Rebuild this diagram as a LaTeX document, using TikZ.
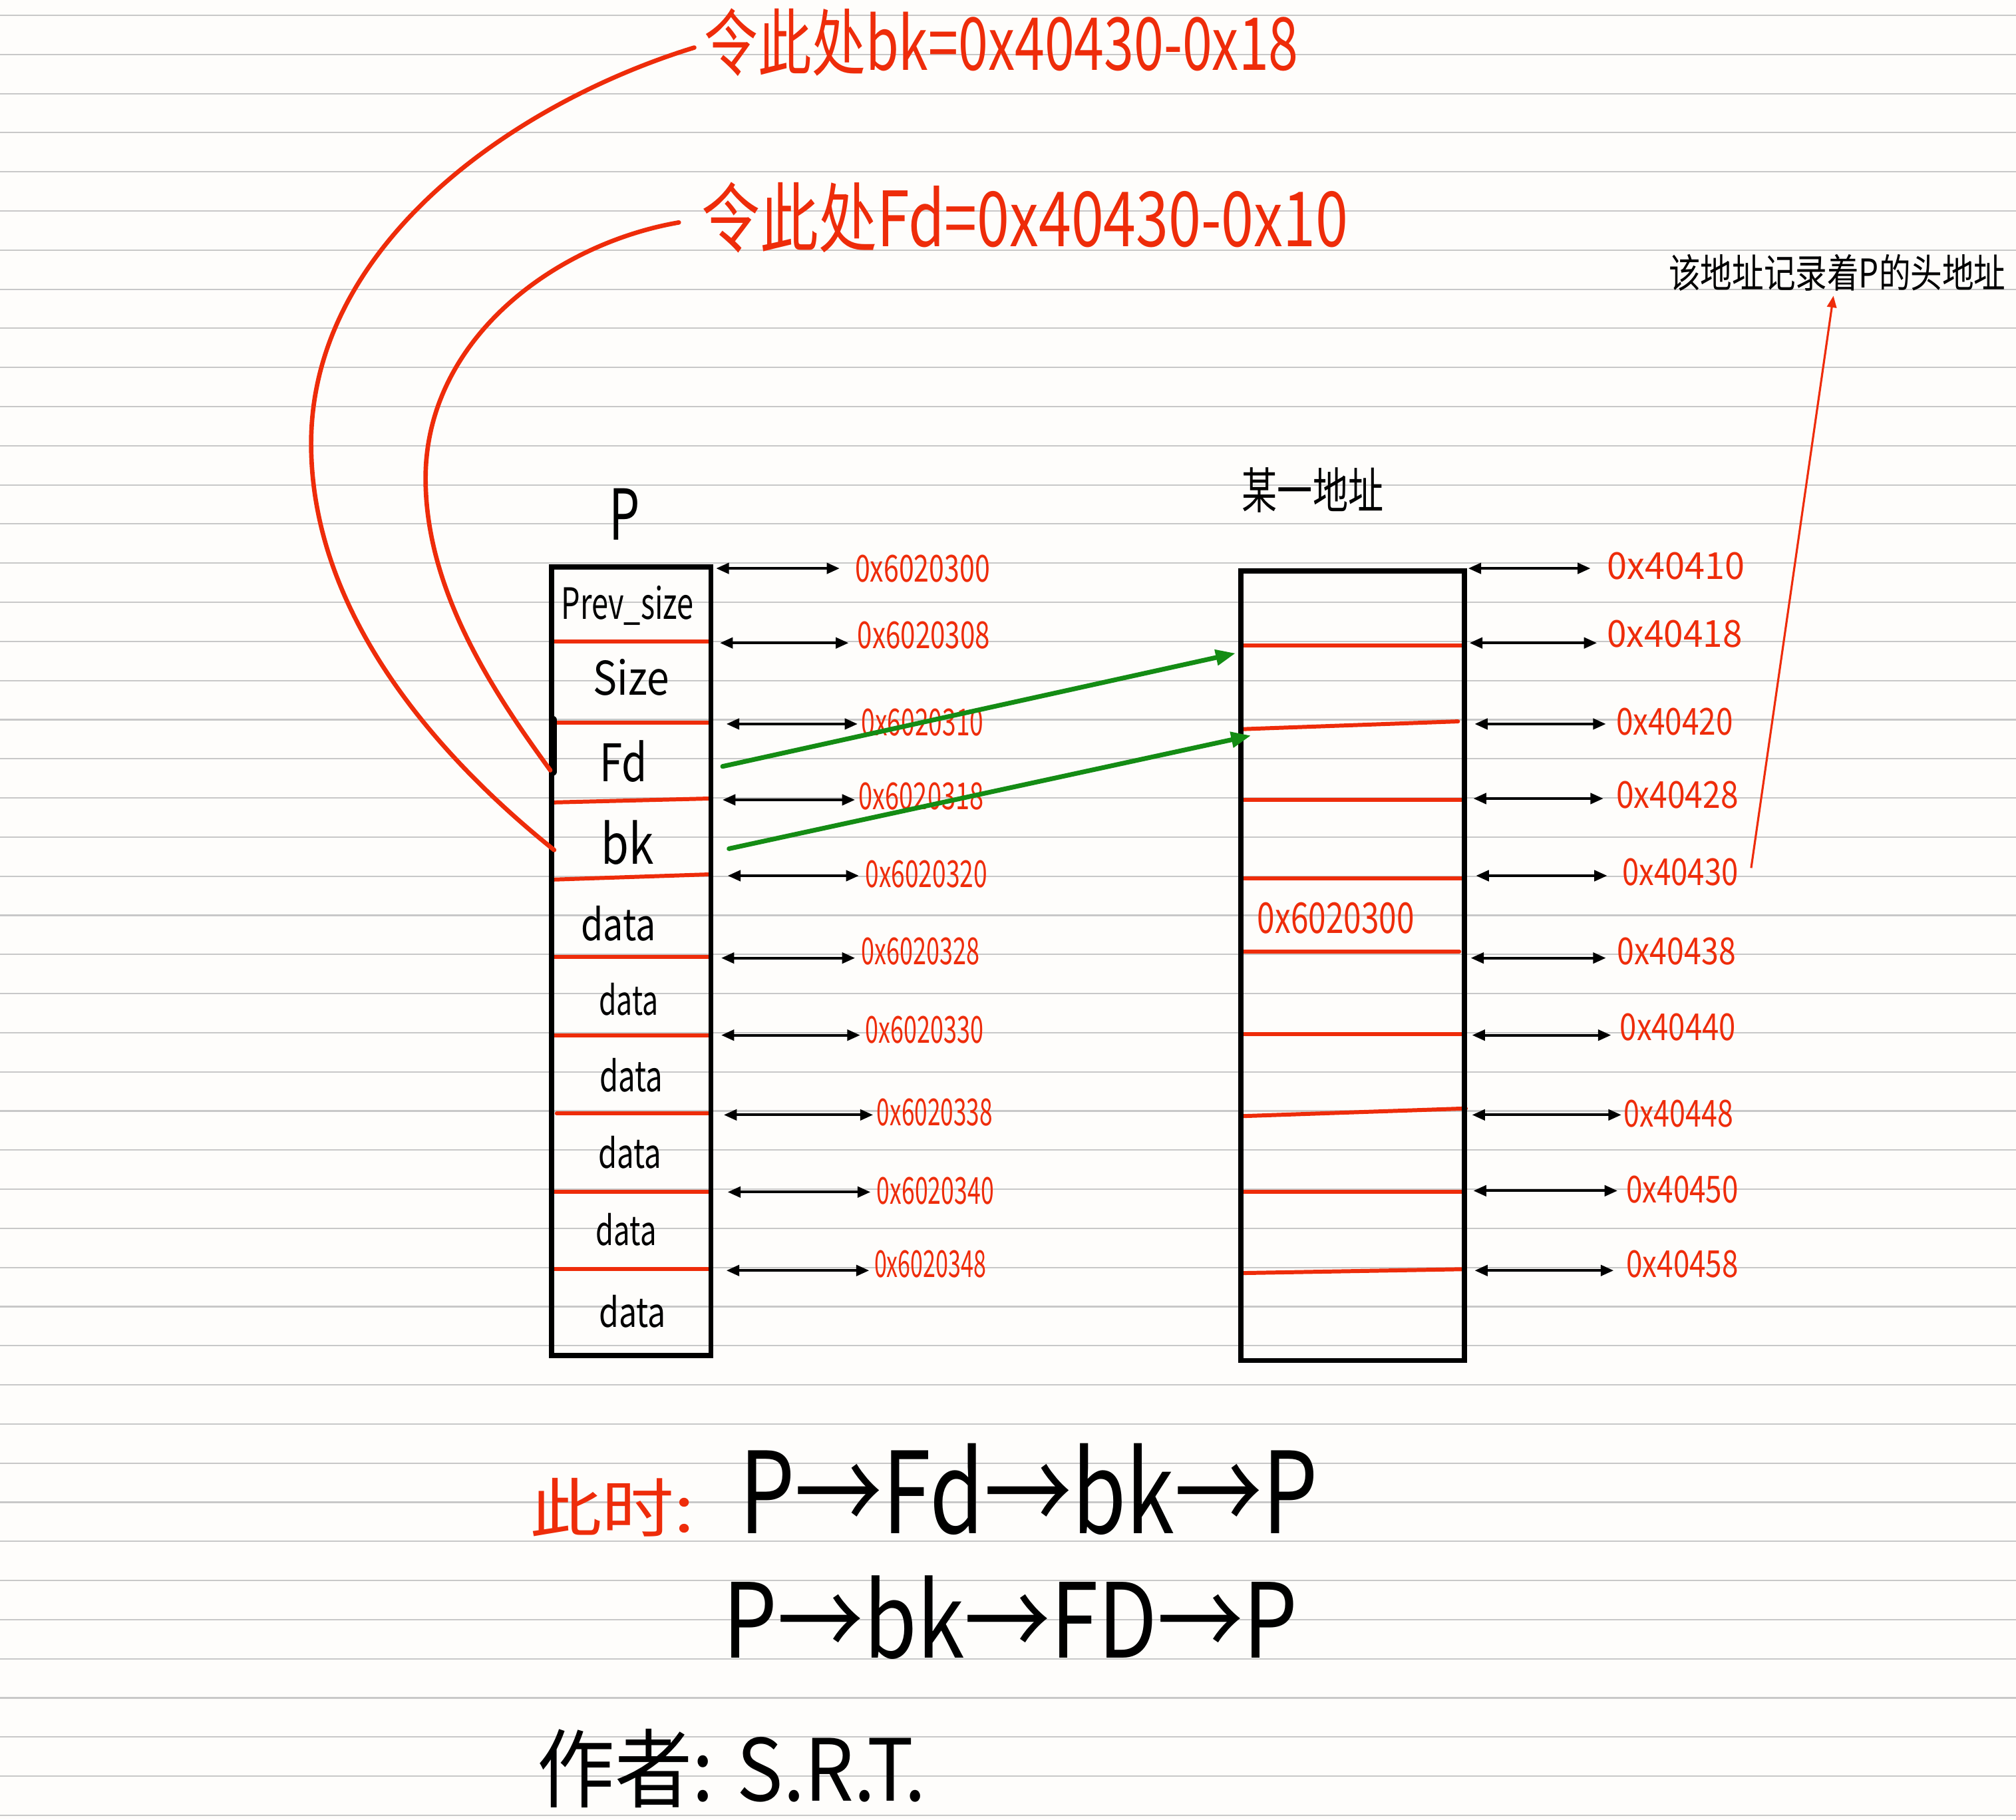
\documentclass[tikz,border=0pt]{standalone}
\usepackage{fontspec}
\setmainfont{Noto Sans CJK SC}
\usetikzlibrary{arrows.meta}
\definecolor{inkred}{RGB}{238,44,10}
\definecolor{inkgreen}{RGB}{20,140,20}
\definecolor{rulegray}{RGB}{200,200,200}
\definecolor{paper}{RGB}{254,253,251}
\newdimen\fitdimw
\newdimen\fitdimh
\newcommand\fittext[3]{\fitdimw=0.019324cm \fitdimw=#1\fitdimw \fitdimh=0.019324cm \fitdimh=#2\fitdimh \resizebox{\fitdimw}{\fitdimh}{#3}}
\tikzset{
  lbl/.style={inner sep=0pt, outer sep=0pt},
  redlbl/.style={lbl, text=inkred},
  blklbl/.style={lbl, text=black},
  ruleline/.style={draw=rulegray, line width=0.6pt},
  colbox/.style={draw=black, line width=2.2pt, line join=miter},
  sepline/.style={draw=inkred, line width=1.7pt, line cap=round},
  dblarrow/.style={draw=black, line width=1.1pt, {Triangle[length=5.5pt,width=4.6pt]}-{Triangle[length=5.5pt,width=4.6pt]}},
  greenarrow/.style={draw=inkgreen, line width=2pt, line cap=round, -{Triangle[length=8.5pt,width=6.5pt]}},
  redcurve/.style={draw=inkred, line width=1.9pt, line cap=round},
  thinredarrow/.style={draw=inkred, line width=0.9pt, -{Triangle[length=5pt,width=4pt]}}
}
\begin{document}
\begin{tikzpicture}[x=0.019324cm, y=-0.019324cm]
\useasboundingbox (0,0) rectangle (1568,1415);
\fill[paper] (0,0) rectangle (1568,1415);
% ruled paper lines
\foreach \k in {0,...,46} {
  \draw[ruleline] (0,{11.9+30.43*\k}) -- (1568,{11.9+30.43*\k});
}
% ---- left column P ----
\draw[sepline] (431,499) -- (551,499);
\draw[sepline] (431,562) -- (551,562);
\draw[sepline] (431,624) -- (551,621);
\draw[sepline] (431,684) -- (551,680);
\draw[sepline] (431,744) -- (551,744);
\draw[sepline] (431,805) -- (551,805);
\draw[sepline] (433,866) -- (551,866);
\draw[sepline] (431,927) -- (551,927);
\draw[sepline] (431,987) -- (551,987);
\coordinate (Ptl) at (429,441);
\coordinate (Pbr) at (553,1054);
\draw[colbox] (Ptl) rectangle (Pbr);
\draw[black, line width=3.6pt, line cap=round] (430,560) -- (430,600);
% ---- right column ----
\draw[sepline] (967,502) -- (1137,502);
\draw[sepline] (967,567) -- (1134,561);
\draw[sepline] (967,622) -- (1137,622);
\draw[sepline] (967,683) -- (1137,683);
\draw[sepline] (967,740) -- (1135,740);
\draw[sepline] (967,804) -- (1137,804);
\draw[sepline] (965,868) -- (1140,862);
\draw[sepline] (967,927) -- (1137,927);
\draw[sepline] (967,990) -- (1137,987);
\coordinate (Qtl) at (965,444);
\coordinate (Qbr) at (1139,1058);
\draw[colbox] (Qtl) rectangle (Qbr);
% ---- column titles ----
\node[blklbl] (ptitle) at (486,400) {\fittext{24}{40}{P}};
\node[blklbl] (qtitle) at (1021,381) {\fittext{110}{32}{某一地址}};
% ---- left column field labels ----
\node[blklbl] (fprev) at (488,471) {\fittext{103}{26}{Prev\_size}};
\node[blklbl] (fsize) at (491,527) {\fittext{59}{28}{Size}};
\node[blklbl] (ffd) at (485,592) {\fittext{37}{32}{Fd}};
\node[blklbl] (fbk) at (488,655) {\fittext{41}{34}{bk}};
\node[blklbl] (fd1) at (481,718) {\fittext{58}{27}{data}};
\node[blklbl] (fd2) at (489,777) {\fittext{46}{25}{data}};
\node[blklbl] (fd3) at (491,836) {\fittext{49}{26}{data}};
\node[blklbl] (fd4) at (490,896) {\fittext{49}{25}{data}};
\node[blklbl] (fd5) at (487,956) {\fittext{47}{25}{data}};
\node[blklbl] (fd6) at (492,1020) {\fittext{52}{25}{data}};
% ---- right column content ----
\node[redlbl] (qval) at (1039,714) {\fittext{122}{24}{0x6020300}};
% ---- left addresses ----
\foreach \n/\ys/\xs/\xe/\lx/\ly/\w/\txt in {
  0/442/557/653/665/442/105/0x6020300,
  1/500/560/660/667/494/103/0x6020308,
  2/563/565/667/670/562/95/0x6020310,
  3/622/562/665/668/619/97/0x6020318,
  4/681/566/668/673/680/95/0x6020320,
  5/745/561/665/670/740/92/0x6020328,
  6/805/561/669/673/801/92/0x6020330,
  7/867/563/679/682/865/90/0x6020338,
  8/927/566/677/682/926/91/0x6020340,
  9/988/565/676/680/983/87/0x6020348} {
  \coordinate (las\n) at (\xs,\ys);
  \coordinate (lae\n) at (\xe,\ys);
  \node[redlbl, anchor=west] (la\n) at (\lx,\ly) {\fittext{\w}{21}{\txt}};
  \draw[dblarrow] (las\n) -- (lae\n);
}
% ---- right addresses ----
\foreach \n/\ys/\xs/\xe/\lx/\ly/\w/\txt in {
  0/442/1142/1237/1250/440/107/0x40410,
  1/500/1143/1242/1250/493/105/0x40418,
  2/563/1147/1249/1257/561/91/0x40420,
  3/621/1146/1247/1257/618/95/0x40428,
  4/681/1148/1250/1262/678/90/0x40430,
  5/745/1144/1249/1258/740/92/0x40438,
  6/805/1145/1253/1260/799/90/0x40440,
  7/867/1145/1261/1263/866/85/0x40448,
  8/926/1146/1258/1265/925/87/0x40450,
  9/988/1147/1255/1265/983/87/0x40458} {
  \coordinate (ras\n) at (\xs,\ys);
  \coordinate (rae\n) at (\xe,\ys);
  \node[redlbl, anchor=west] (ra\n) at (\lx,\ly) {\fittext{\w}{21}{\txt}};
  \draw[dblarrow] (ras\n) -- (rae\n);
}
% ---- note at top right ----
\node[blklbl] (note) at (1429,212) {\fittext{262}{26}{该地址记录着P的头地址}};
\coordinate (notefrom) at (1362,675);
\coordinate (notetip) at (1426,230);
\draw[thinredarrow] (notefrom) -- (notetip);
% ---- top red formulas ----
\node[redlbl] (tbk) at (779,33) {\fittext{462}{48}{令此处bk=0x40430-0x18}};
\node[redlbl] (tfd) at (797,169) {\fittext{503}{50}{令此处Fd=0x40430-0x10}};
% ---- green pointer arrows ----
\coordinate (gfds) at (562,596);
\coordinate (gfde) at (961,508);
\coordinate (gbks) at (567,660);
\coordinate (gbke) at (973,572);
\draw[greenarrow] (gfds) -- (gfde);
\draw[greenarrow] (gbks) -- (gbke);
% ---- red curves ----
\coordinate (c1s) at (540,37);
\coordinate (c1m) at (242,345);
\coordinate (c1e) at (431,661);
\draw[redcurve] (c1s) .. controls (400,80) and (242,190) .. (c1m)
                      .. controls (242,470) and (330,580) .. (c1e);
\coordinate (c2s) at (528,173);
\coordinate (c2m) at (331,372);
\coordinate (c2e) at (428,599);
\draw[redcurve] (c2s) .. controls (430,190) and (331,265) .. (c2m)
                      .. controls (331,460) and (385,540) .. (c2e);
% ---- bottom text ----
\node[redlbl] (now) at (476,1172) {\fittext{128}{42}{此时:}};
\node[blklbl] (chain1) at (800,1158) {\fittext{450}{70}{P→Fd→bk→P}};
\node[blklbl] (chain2) at (786,1258) {\fittext{447}{64}{P→bk→FD→P}};
\node[blklbl] (author) at (569,1375) {\fittext{302}{56}{作者: S.R.T.}};
\end{tikzpicture}
\end{document}
